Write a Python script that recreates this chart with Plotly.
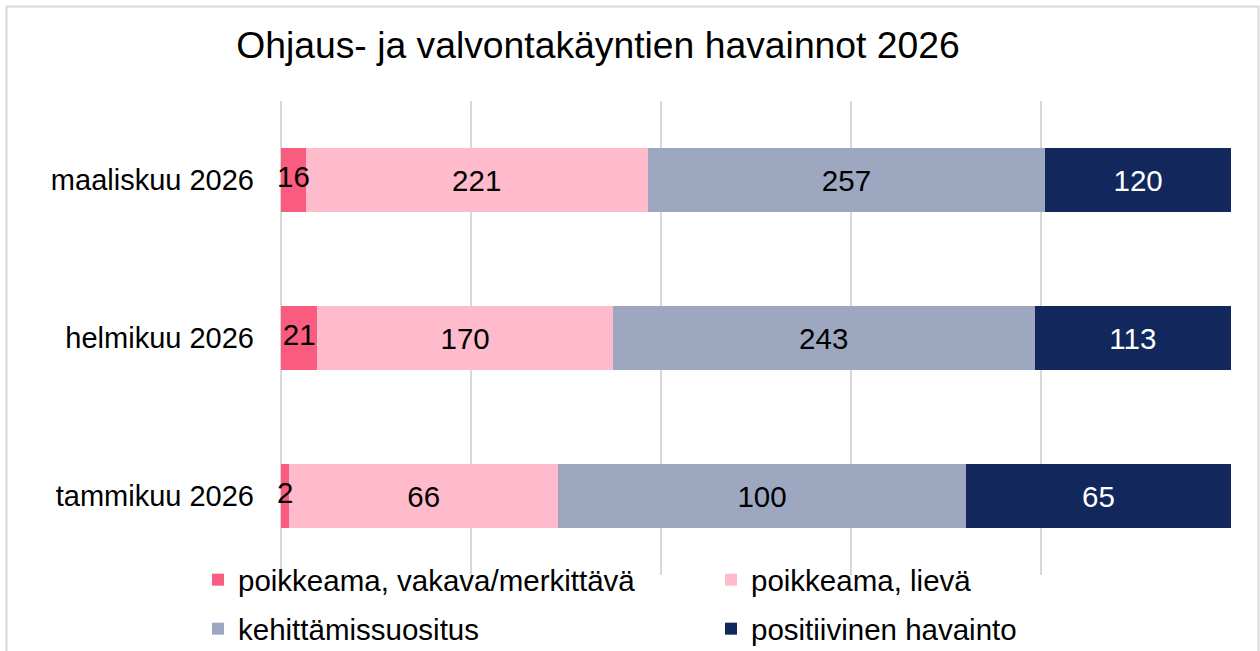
import plotly.graph_objects as go

categories = ["tammikuu 2026", "helmikuu 2026", "maaliskuu 2026"]
series_names = ["poikkeama, vakava/merkittävä", "poikkeama, lievä",
                "kehittämissuositus", "positiivinen havainto"]
vakava = [2, 21, 16]
lieva = [66, 170, 221]
kehitys = [100, 243, 257]
positiivinen = [65, 113, 120]

colors = ["#F95C7E", "#FFBACB", "#9DA8C0", "#12275C"]
text_colors = ["#000000", "#000000", "#000000", "#FFFFFF"]
legend_ids = ["legend", "legend", "legend2", "legend2"]

FONT = "Arial, Liberation Sans, sans-serif"
LABEL_SIZE = 29.5

all_series = [vakava, lieva, kehitys, positiivinen]
totals = [sum(v) for v in zip(*all_series)]

fig = go.Figure()
for i, (name, vals, col, tcol, lg) in enumerate(zip(series_names, all_series,
                                                    colors, text_colors, legend_ids)):
    fig.add_trace(go.Bar(
        y=categories, x=vals, name=name, orientation="h",
        marker=dict(color=col, line=dict(width=0)),
        text=None if i == 0 else [str(v) for v in vals],
        textposition="none" if i == 0 else "inside",
        insidetextanchor="middle", constraintext="none", textangle=0,
        insidetextfont=dict(family=FONT, size=LABEL_SIZE, color=tcol),
        legend=lg, hoverinfo="x+name",
    ))

# labels of the narrow first segment, drawn on top so they are not hidden
fig.add_trace(go.Scatter(
    y=categories, x=[v / t * 100 / 2 for v, t in zip(vakava, totals)],
    mode="text", text=[str(v) for v in vakava], textposition="middle center",
    textfont=dict(family=FONT, size=LABEL_SIZE, color="#000000"),
    showlegend=False, hoverinfo="skip", cliponaxis=False,
))

W, H = 1260, 651
L, R, T, B = 281, 29, 101, 76
pw, ph = W - L - R, H - T - B

def px2x(px):
    return (px - L) / pw

def py2y(py):
    return (H - B - py) / ph

legend_common = dict(orientation="h", xanchor="left", yanchor="middle",
                     entrywidth=468, entrywidthmode="pixels", bgcolor="rgba(0,0,0,0)",
                     font=dict(family=FONT, size=29.5, color="#000000"),
                     traceorder="normal")

fig.update_layout(
    width=W, height=H,
    barmode="stack", barnorm="percent", bargap=0.6,
    margin=dict(l=L, r=R, t=T, b=B, autoexpand=False),
    paper_bgcolor="white", plot_bgcolor="white",
    font=dict(family=FONT, size=29, color="#000000"),
    title=dict(text="Ohjaus- ja valvontakäyntien havainnot 2026",
               x=598 / W, xanchor="center", y=1 - 45 / H, yanchor="middle",
               xref="container", yref="container",
               font=dict(family=FONT, size=37.3, color="#000000")),
    xaxis=dict(range=[0, 100.01], dtick=20, showticklabels=False,
               showgrid=True, gridcolor="rgba(110,110,110,0.27)", gridwidth=1.5,
               zeroline=True, zerolinecolor="rgba(110,110,110,0.27)", zerolinewidth=1.5,
               layer="above traces", fixedrange=True),
    yaxis=dict(showgrid=False, zeroline=False, ticks="", ticklabelstandoff=26,
               tickfont=dict(family=FONT, size=29, color="#000000"), fixedrange=True),
    legend=dict(legend_common, x=px2x(198), y=py2y(580)),
    legend2=dict(legend_common, x=px2x(198), y=py2y(629)),
    showlegend=True,
    shapes=[dict(type="rect", xref="paper", yref="paper",
                 x0=px2x(6.5), x1=px2x(1258.5), y0=py2y(670), y1=py2y(6.5),
                 line=dict(color="#D9D9D9", width=2), fillcolor="rgba(0,0,0,0)",
                 layer="below")],
)

fig.write_html("out.html")
